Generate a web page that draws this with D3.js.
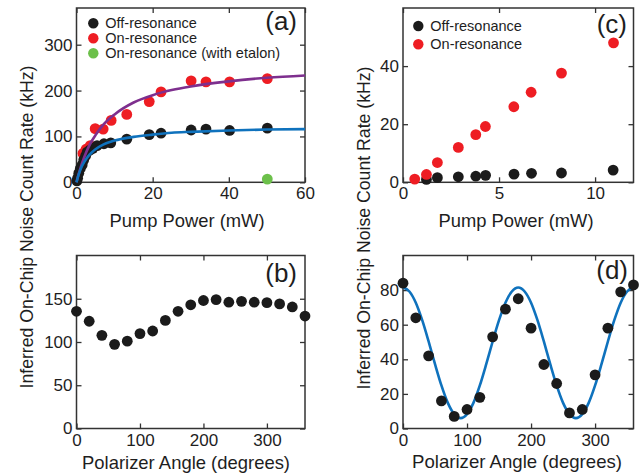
<!DOCTYPE html>
<html><head><meta charset="utf-8">
<script src="https://cdn.jsdelivr.net/npm/d3@7"></script>
<style>
html,body{margin:0;padding:0;background:#fff;}
text{font-family:"Liberation Sans",Arial,sans-serif;fill:#1e1e1e;}
</style></head>
<body>
<svg id="c" width="642" height="475"></svg>
<script>
// ---- Panel (a) data ----
const aOffPower = [0.1,0.3,0.6,1.0,1.5,1.9,2.4,2.8,3.5,4.3,5.4,7.2,9.0,13.2,19.1,22.2,30.1,34.0,40.2,50.1];
const aOffRate  = [3,9,20,30,38,49,58,66,70,74,80,84,86,94,104,107,114,116,113,118];
const aOnPower  = [1.7,2.5,3.6,4.9,7.0,9.1,13.2,19.1,22.2,30.1,34.0,40.2,50.1];
const aOnRate   = [63,72,80,117,116,135,148,176,197,221,219,219,226];
const aEtalonPower = [50.1];
const aEtalonRate  = [7];
const aFitPower = [0,0.5,1,2,3,4,5,7,10,15,20,25,30,40,50,60];
const aOffFit   = [0,15,27,44,56,65,72,82,91,99,104,108,110,113,115,116];
const aOnFit    = [0,16,30,54,74,90,103,125,148,174,190,201,209,220,228,233];
// ---- Panel (b) data ----
const bAngle = [0,20,40,60,80,100,120,140,160,180,200,220,240,260,280,300,320,340,360];
const bRate  = [135.5,124,107.7,97.3,101,109.7,112.7,125,135.5,143,148,149,146,147,146,145.5,144,140.5,130];
// ---- Panel (c) data ----
const cOnPower  = [0.61,1.22,1.79,2.88,3.79,4.29,5.77,6.67,8.25,10.96];
const cOnRate   = [1.1,2.7,6.8,12,16.4,19.2,26,31,37.6,48];
const cOffPower = [1.22,1.79,2.88,3.79,4.3,5.78,6.69,8.25,10.94];
const cOffRate  = [1.0,1.6,1.9,2.1,2.4,2.8,3.1,3.2,4.2];
// ---- Panel (d) data ----
const dAngle = [0,20,40,60,80,100,120,140,160,180,200,220,240,260,280,300,320,340,360];
const dRate  = [84,64,42,16,7,11,18,53,69,75,58,37,26,9,11,31,58,79,83];
const dFitAngle = [0,10,20,30,40,50,60,70,80,90,100,110,120,130,140,150,160,170,180,190,200,210,220,230,240,250,260,270,280,290,300,310,320,330,340,350,360];
const dFitRate  = [81.5,79.2,72.7,62.6,50.3,37.2,24.9,14.8,8.3,6,8.3,14.8,24.9,37.2,50.3,62.6,72.7,79.2,81.5,79.2,72.7,62.6,50.3,37.2,24.9,14.8,8.3,6,8.3,14.8,24.9,37.2,50.3,62.6,72.7,79.2,81.5];
// ---- tick labels ----
const aXTicks = [0,20,40,60], aYTicks = [0,100,200,300];
const bXTicks = [0,100,200,300], bYTicks = [0,50,100,150];
const cXTicks = [0,5,10], cYTicks = [0,20,40];
const dXTicks = [0,100,200,300], dYTicks = [0,20,40,60,80];

const legA = ["Off-resonance","On-resonance","On-resonance (with etalon)"];
const legC = ["Off-resonance","On-resonance"];

const BLACK="#1b1b1b", RED="#ee1d23", GREEN="#6cc04a", BLUE="#0f72bd", PURPLE="#7e2f8e";
const FONT="Liberation Sans, Arial, sans-serif";
const svg = d3.select("#c");

function panel(box, xDom, yDom, xTicks, yTicks){
  const g = svg.append("g");
  const x = d3.scaleLinear().domain(xDom).range([box.x0, box.x1]);
  const y = d3.scaleLinear().domain(yDom).range([box.y1, box.y0]);
  const TS = 5;
  const styleAx = s => { s.select(".domain").remove(); s.selectAll("line").attr("stroke","#333").attr("stroke-width",1.3); };
  const styleTx = s => s.selectAll("text").attr("font-size",17).attr("fill","#1e1e1e").attr("font-family",FONT);
  g.append("g").attr("transform",`translate(0,${box.y1})`)
    .call(d3.axisBottom(x).tickValues(xTicks).tickSizeInner(-TS).tickSizeOuter(0).tickPadding(5))
    .call(styleAx).call(styleTx);
  g.append("g").attr("transform",`translate(0,${box.y0})`)
    .call(d3.axisTop(x).tickValues(xTicks).tickSizeInner(-TS).tickSizeOuter(0).tickFormat(""))
    .call(styleAx);
  g.append("g").attr("transform",`translate(${box.x0},0)`)
    .call(d3.axisLeft(y).tickValues(yTicks).tickSizeInner(-TS).tickSizeOuter(0).tickPadding(4))
    .call(styleAx).call(styleTx);
  g.append("g").attr("transform",`translate(${box.x1},0)`)
    .call(d3.axisRight(y).tickValues(yTicks).tickSizeInner(-TS).tickSizeOuter(0).tickFormat(""))
    .call(styleAx);
  g.append("rect").attr("x",box.x0).attr("y",box.y0).attr("width",box.x1-box.x0).attr("height",box.y1-box.y0)
    .attr("fill","none").attr("stroke","#333").attr("stroke-width",1.5);
  return {g,x,y};
}
function dots(p, xs, ys, color, r=5.4){
  p.g.append("g").selectAll("circle").data(xs.map((v,i)=>[v,ys[i]])).join("circle")
    .attr("cx",d=>p.x(d[0])).attr("cy",d=>p.y(d[1])).attr("r",r).attr("fill",color);
}
function curve(p, xs, ys, color){
  p.g.append("path").datum(xs.map((v,i)=>[v,ys[i]]))
    .attr("d", d3.line().x(d=>p.x(d[0])).y(d=>p.y(d[1])).curve(d3.curveMonotoneX))
    .attr("fill","none").attr("stroke",color).attr("stroke-width",2.6);
}
function label(txt,x,y,size=26){
  svg.append("text").attr("x",x).attr("y",y).attr("text-anchor","end").attr("font-size",size).text(txt);
}
function legend(items, colors, x, y, dy){
  items.forEach((t,i)=>{
    svg.append("circle").attr("cx",x).attr("cy",y+i*dy).attr("r",5.2).attr("fill",colors[i]);
    svg.append("text").attr("x",x+12).attr("y",y+i*dy+5).attr("font-size",14.5).text(t);
  });
}
function xTitle(txt, cx, y, len){
  svg.append("text").attr("x",cx).attr("y",y).attr("text-anchor","middle").attr("font-size",18.5)
    .attr("textLength",len).attr("lengthAdjust","spacingAndGlyphs").text(txt);
}
function yTitle(txt, x, cy, len){
  svg.append("text").attr("transform",`translate(${x},${cy}) rotate(-90)`).attr("text-anchor","middle")
    .attr("font-size",18.5).attr("textLength",len).attr("lengthAdjust","spacingAndGlyphs").text(txt);
}

const boxA = {x0:76.5,x1:305,y0:8,y1:182.3};
const boxB = {x0:76.5,x1:305,y0:255.5,y1:428.5};
const boxC = {x0:403,x1:633.5,y0:8,y1:182.3};
const boxD = {x0:403,x1:633.5,y0:255.5,y1:428.5};

// (a)
const pa = panel(boxA,[0,60],[0,380],aXTicks,aYTicks);
dots(pa,aOnPower,aOnRate,RED);
dots(pa,aOffPower,aOffRate,BLACK);
dots(pa,aEtalonPower,aEtalonRate,GREEN);
curve(pa,aFitPower,aOnFit,PURPLE);
curve(pa,aFitPower,aOffFit,BLUE);
legend(legA,[BLACK,RED,GREEN],93.3,23.3,15);
label("(a)",297,30);

// (b)
const pb = panel(boxB,[0,360],[0,200],bXTicks,bYTicks);
dots(pb,bAngle,bRate,BLACK);
label("(b)",297,282);

// (c)
const pc = panel(boxC,[0,12],[0,60],cXTicks,cYTicks);
dots(pc,cOffPower,cOffRate,BLACK);
dots(pc,cOnPower,cOnRate,RED);
legend(legC,[BLACK,RED],418.3,26,18.3);
label("(c)",627,33);

// (d)
const pd = panel(boxD,[0,360],[0,100],dXTicks,dYTicks);
curve(pd,dFitAngle,dFitRate,BLUE);
dots(pd,dAngle,dRate,BLACK);
label("(d)",628,279);

xTitle("Pump Power (mW)",187,227,155);
xTitle("Pump Power (mW)",516,227,155);
xTitle("Polarizer Angle (degrees)",186,469,208);
xTitle("Polarizer Angle (degrees)",517,468,210);
yTitle("Inferred On-Chip Noise Count Rate (kHz)",33,227,323);
yTitle("Inferred On-Chip Noise Count Rate (kHz)",370,228,323);
</script>
</body></html>
